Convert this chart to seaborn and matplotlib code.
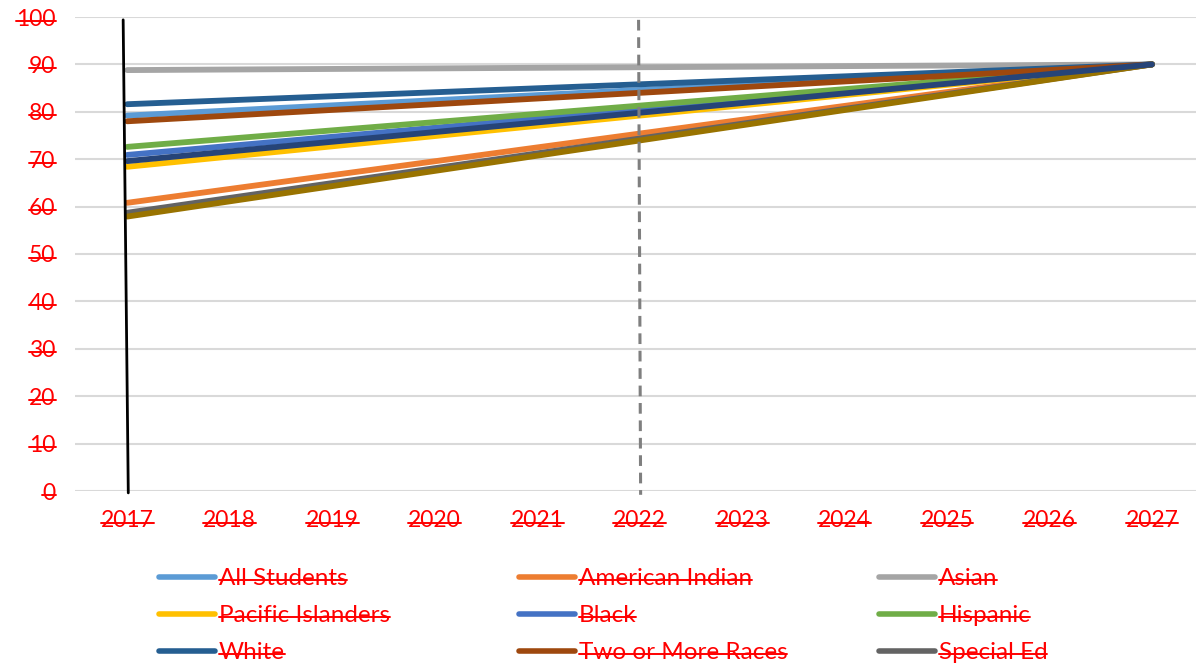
import matplotlib
matplotlib.use("Agg")
import matplotlib.pyplot as plt
from matplotlib.lines import Line2D
import seaborn as sns
import pandas as pd

# ---- data ----
years = [2017, 2027]
groups = ["All Students", "American Indian", "Asian", "Pacific Islanders", "Black",
          "Hispanic", "White", "Two or More Races", "Special Ed", "Series 10", "Series 11"]
start_2017 = [79.2, 60.8, 88.8, 68.4, 70.9, 72.6, 81.6, 78.0, 58.7, 57.9, 69.6]
target_2027 = [90, 90, 90, 90, 90, 90, 90, 90, 90, 90, 90]
colors = ["#5B9BD5", "#ED7D31", "#A5A5A5", "#FFC000", "#4472C4", "#70AD47",
          "#255E91", "#9E480E", "#636363", "#997300", "#264478"]
legend_groups = groups[:9]
y_ticks = list(range(0, 101, 10))
x_ticks = list(range(2017, 2028))

# reference markers
marker_top = (2016.96, 99.4)
marker_bottom = (2017.01, -0.4)
dash_top = (2021.99, 99.4)
dash_bottom = (2022.01, -0.8)

rows = []
for g, s, t in zip(groups, start_2017, target_2027):
    rows.append({"year": years[0], "value": s, "group": g})
    rows.append({"year": years[1], "value": t, "group": g})
df = pd.DataFrame(rows)
palette = dict(zip(groups, colors))

sns.set_theme(style="white")
plt.rcParams["font.family"] = ["Lato", "DejaVu Sans"]

fig = plt.figure(figsize=(11.96, 6.64), dpi=100)
ax = fig.add_axes([75 / 1196, 1 - 491 / 664, 1 - 75 / 1196, (491 - 17) / 664])

ax.set_ylim(0, 100)
ax.set_xlim(2016.49, 2027.43)
ax.set_yticks(y_ticks)
ax.set_xticks(x_ticks)
ax.grid(axis="y", color="#D9D9D9", linewidth=1.5)
ax.set_axisbelow(True)
for sp in ax.spines.values():
    sp.set_visible(False)

sns.lineplot(data=df, x="year", y="value", hue="group", hue_order=groups,
             palette=palette, linewidth=4.2, legend=False, ax=ax,
             solid_capstyle="round")

ax.plot([dash_top[0], dash_bottom[0]], [dash_top[1], dash_bottom[1]],
        color="#7F7F7F", linewidth=2.2, linestyle=(0, (3.5, 2.2)), clip_on=False, zorder=5)
ax.plot([marker_top[0], marker_bottom[0]], [marker_top[1], marker_bottom[1]],
        color="black", linewidth=2, clip_on=False, zorder=6)

ax.set_xlabel("")
ax.set_ylabel("")
ax.tick_params(axis="both", length=0, labelsize=16.5, labelcolor="#FF0000")
ax.tick_params(axis="y", pad=14)
ax.tick_params(axis="x", pad=14)

# legend: three columns, row-major order
col_x = [159 / 1196, 519 / 1196, 879 / 1196]
legends = []
for c in range(3):
    names = [legend_groups[c + 3 * r] for r in range(3)]
    handles = [Line2D([], [], color=palette[n], linewidth=4, solid_capstyle="round") for n in names]
    leg = fig.legend(handles, names, loc="upper left", bbox_to_anchor=(col_x[c], 1 - 568 / 664),
                     frameon=False, fontsize=17.5, handlelength=2.3, handletextpad=0.15,
                     labelspacing=0.66, borderaxespad=0, borderpad=0)
    for t in leg.get_texts():
        t.set_color("#FF0000")
    legends.append(leg)

# strikethrough for all text
fig.canvas.draw()
renderer = fig.canvas.get_renderer()
texts = list(ax.get_xticklabels()) + list(ax.get_yticklabels())
for leg in legends:
    texts += leg.get_texts()
W, H = fig.bbox.width, fig.bbox.height
for t in texts:
    if not t.get_text():
        continue
    bb = t.get_window_extent(renderer)
    ymid = bb.y0 + 0.42 * bb.height
    fig.add_artist(Line2D([bb.x0 / W, bb.x1 / W], [ymid / H, ymid / H],
                          color="#FF0000", linewidth=1.4, transform=fig.transFigure))

fig.savefig("out.png", dpi=100)
